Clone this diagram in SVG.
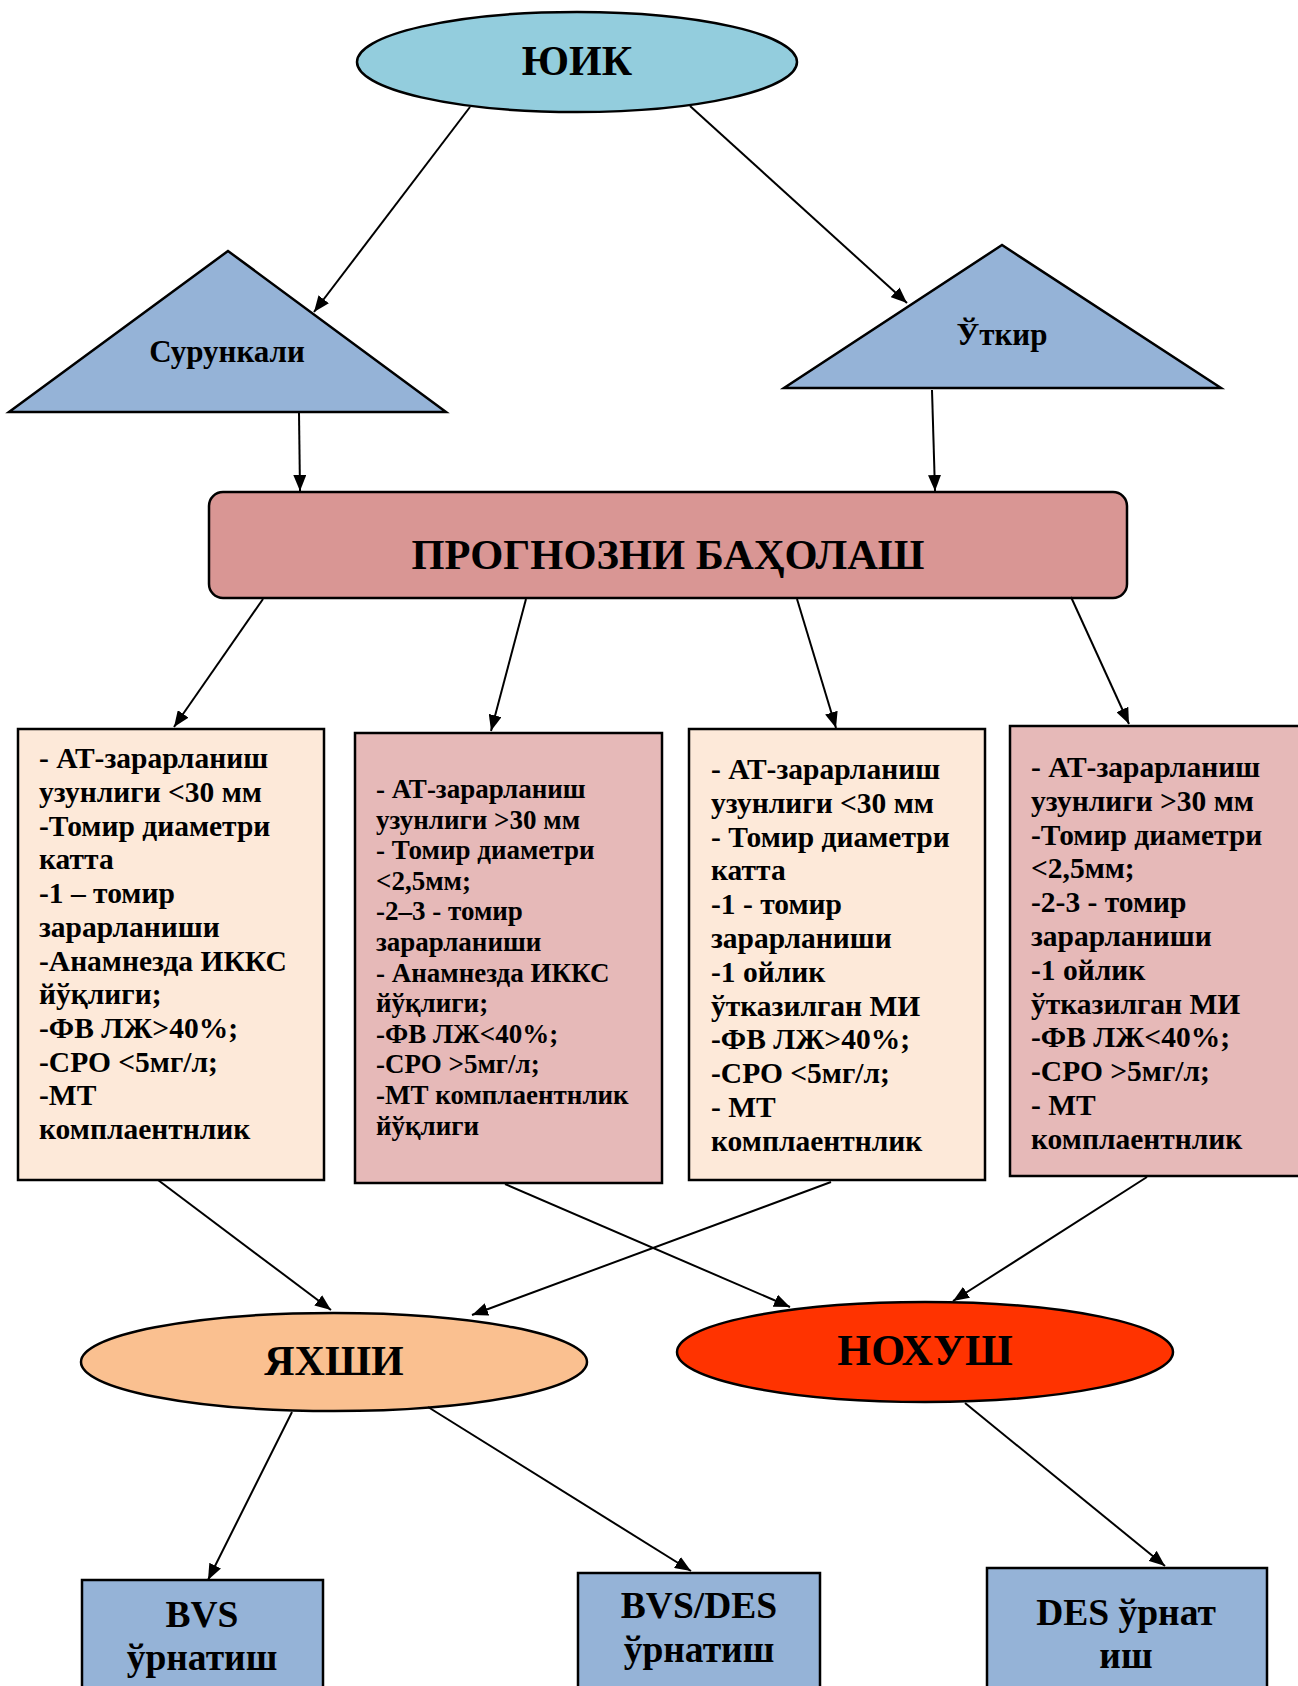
<svg xmlns="http://www.w3.org/2000/svg" width="1298" height="1686" viewBox="0 0 1298 1686">
<style>
text { font-family: "Liberation Serif", "Times New Roman", serif; font-weight: bold; fill: #000; }
.shape { stroke: #000; stroke-width: 2.5; }
.big { font-size: 42px; text-anchor: middle; }
.mid { font-size: 31px; text-anchor: middle; }
.bot { font-size: 37.5px; text-anchor: middle; }
.t29 { font-size: 29.5px; }
.t27 { font-size: 27px; }
.conn line { stroke: #000; stroke-width: 2; marker-end: url(#ah); }
</style>
<defs>
<marker id="ah" markerWidth="16" markerHeight="13" refX="16" refY="6.5" orient="auto" markerUnits="userSpaceOnUse"><path d="M0,0 L16,6.5 L0,13 z" fill="#000"/></marker>
</defs>
<rect width="1298" height="1686" fill="#fff"/>

<g id="yuik">
<ellipse class="shape" cx="577" cy="62" rx="220" ry="50" fill="#93CDDD"/>
<text class="big" x="577" y="75">ЮИК</text>
</g>
<g id="surunkali">
<polygon class="shape" points="228,251 9,412 446,412" fill="#95B3D7"/>
<text class="mid" x="227" y="362">Сурункали</text>
</g>
<g id="utkir">
<polygon class="shape" points="1002,245 784,388 1221,388" fill="#95B3D7"/>
<text class="mid" x="1002" y="345">Ўткир</text>
</g>
<g id="prognoz">
<rect class="shape" x="209" y="492" width="918" height="106" rx="14" ry="14" fill="#D99694"/>
<text x="668" y="569" style="font-size:42.5px;text-anchor:middle">ПРОГНОЗНИ БАҲОЛАШ</text>
</g>

<g id="box1">
<rect class="shape" x="18" y="729" width="306" height="451" fill="#FDE9D9"/>
<text class="t29">
<tspan x="39" y="768">- АТ-зарарланиш</tspan>
<tspan x="39" y="802">узунлиги &lt;30 мм</tspan>
<tspan x="39" y="836">-Томир диаметри</tspan>
<tspan x="39" y="869">катта</tspan>
<tspan x="39" y="903">-1 – томир</tspan>
<tspan x="39" y="937">зарарланиши</tspan>
<tspan x="39" y="971">-Анамнезда ИККС</tspan>
<tspan x="39" y="1004">йўқлиги;</tspan>
<tspan x="39" y="1038">-ФВ ЛЖ&gt;40%;</tspan>
<tspan x="39" y="1072">-СРО &lt;5мг/л;</tspan>
<tspan x="39" y="1105">-МТ</tspan>
<tspan x="39" y="1139">комплаентнлик</tspan>
</text>
</g>
<g id="box2">
<rect class="shape" x="355" y="733" width="307" height="450" fill="#E6B9B8"/>
<text class="t27">
<tspan x="376" y="798">- АТ-зарарланиш</tspan>
<tspan x="376" y="829">узунлиги &gt;30 мм</tspan>
<tspan x="376" y="859">- Томир диаметри</tspan>
<tspan x="376" y="890">&lt;2,5мм;</tspan>
<tspan x="376" y="920">-2–3 - томир</tspan>
<tspan x="376" y="951">зарарланиши</tspan>
<tspan x="376" y="982">- Анамнезда ИККС</tspan>
<tspan x="376" y="1012">йўқлиги;</tspan>
<tspan x="376" y="1043">-ФВ ЛЖ&lt;40%;</tspan>
<tspan x="376" y="1073">-СРО &gt;5мг/л;</tspan>
<tspan x="376" y="1104">-МТ комплаентнлик</tspan>
<tspan x="376" y="1135">йўқлиги</tspan>
</text>
</g>
<g id="box3">
<rect class="shape" x="689" y="729" width="296" height="451" fill="#FDE9D9"/>
<text class="t29">
<tspan x="711" y="779">- АТ-зарарланиш</tspan>
<tspan x="711" y="813">узунлиги &lt;30 мм</tspan>
<tspan x="711" y="847">- Томир диаметри</tspan>
<tspan x="711" y="880">катта</tspan>
<tspan x="711" y="914">-1 - томир</tspan>
<tspan x="711" y="948">зарарланиши</tspan>
<tspan x="711" y="982">-1 ойлик</tspan>
<tspan x="711" y="1016">ўтказилган МИ</tspan>
<tspan x="711" y="1049">-ФВ ЛЖ&gt;40%;</tspan>
<tspan x="711" y="1083">-СРО &lt;5мг/л;</tspan>
<tspan x="711" y="1117">- МТ</tspan>
<tspan x="711" y="1151">комплаентнлик</tspan>
</text>
</g>
<g id="box4">
<rect class="shape" x="1010" y="726" width="292" height="450" fill="#E6B9B8"/>
<text class="t29">
<tspan x="1031" y="777">- АТ-зарарланиш</tspan>
<tspan x="1031" y="811">узунлиги &gt;30 мм</tspan>
<tspan x="1031" y="845">-Томир диаметри</tspan>
<tspan x="1031" y="878">&lt;2,5мм;</tspan>
<tspan x="1031" y="912">-2-3 - томир</tspan>
<tspan x="1031" y="946">зарарланиши</tspan>
<tspan x="1031" y="980">-1 ойлик</tspan>
<tspan x="1031" y="1014">ўтказилган МИ</tspan>
<tspan x="1031" y="1047">-ФВ ЛЖ&lt;40%;</tspan>
<tspan x="1031" y="1081">-СРО &gt;5мг/л;</tspan>
<tspan x="1031" y="1115">- МТ</tspan>
<tspan x="1031" y="1149">комплаентнлик</tspan>
</text>
</g>

<g id="yaxshi">
<ellipse class="shape" cx="334" cy="1362" rx="253" ry="49" fill="#FAC090"/>
<text class="big" x="334" y="1375">ЯХШИ</text>
</g>
<g id="noxush">
<ellipse class="shape" cx="925" cy="1352" rx="248" ry="50" fill="#FF3300"/>
<text x="925" y="1365" style="font-size:43.5px;text-anchor:middle">НОХУШ</text>
</g>

<g id="bvs">
<rect class="shape" x="82" y="1580" width="241" height="120" fill="#95B3D7"/>
<text class="bot" x="202" y="1627">BVS</text>
<text class="bot" x="202" y="1670">ўрнатиш</text>
</g>
<g id="bvsdes">
<rect class="shape" x="578" y="1573" width="242" height="130" fill="#95B3D7"/>
<text class="bot" x="699" y="1618">BVS/DES</text>
<text class="bot" x="699" y="1662">ўрнатиш</text>
</g>
<g id="des">
<rect class="shape" x="987" y="1568" width="280" height="130" fill="#95B3D7"/>
<text class="bot" x="1126" y="1625">DES ўрнат</text>
<text class="bot" x="1126" y="1668">иш</text>
</g>

<g id="connectors" class="conn">
<line x1="470" y1="107" x2="314" y2="312"/>
<line x1="690" y1="106" x2="907" y2="303"/>
<line x1="299" y1="413" x2="300" y2="491"/>
<line x1="932" y1="390" x2="935" y2="491"/>
<line x1="263" y1="599" x2="174" y2="727"/>
<line x1="526" y1="599" x2="491" y2="731"/>
<line x1="797" y1="599" x2="836" y2="728"/>
<line x1="1071" y1="597" x2="1129" y2="724"/>
<line x1="158" y1="1180" x2="331" y2="1310"/>
<line x1="505" y1="1184" x2="790" y2="1307"/>
<line x1="831" y1="1182" x2="472" y2="1315"/>
<line x1="1147" y1="1177" x2="953" y2="1301"/>
<line x1="292" y1="1412" x2="208" y2="1580"/>
<line x1="428" y1="1407" x2="691" y2="1571"/>
<line x1="965" y1="1403" x2="1165" y2="1566"/>
</g>
</svg>
